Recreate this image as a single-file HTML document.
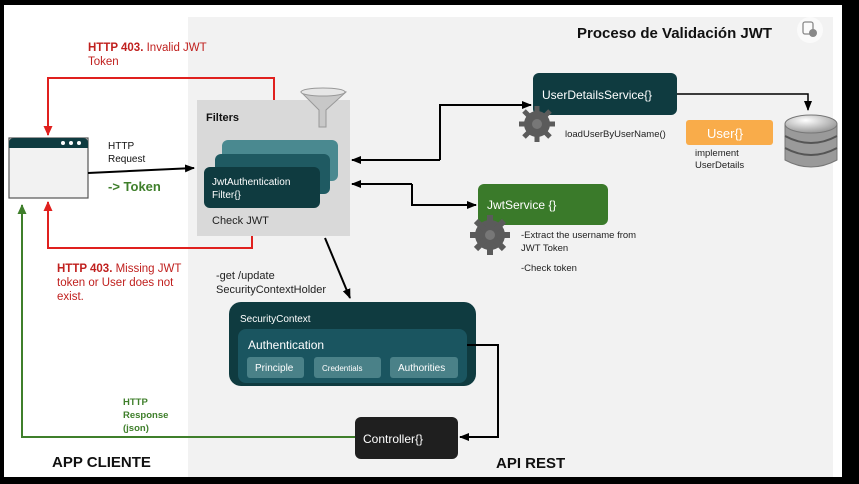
<!DOCTYPE html>
<html><head><meta charset="utf-8"><style>
html,body{margin:0;padding:0;background:#000;}
svg{display:block;font-family:"Liberation Sans",sans-serif;}
</style></head><body>
<svg width="859" height="484" viewBox="0 0 859 484" xmlns="http://www.w3.org/2000/svg">
<defs>
<marker id="ab" markerWidth="10" markerHeight="10" refX="9" refY="5" orient="auto" markerUnits="userSpaceOnUse"><path d="M0,1 L10,5 L0,9 Z" fill="#000"/></marker>
<marker id="ar" markerWidth="10" markerHeight="12" refX="9" refY="5" orient="auto" markerUnits="userSpaceOnUse"><path d="M0,0.5 L10,5 L0,9.5 Z" fill="#e0201e"/></marker>
<marker id="ag" markerWidth="10" markerHeight="12" refX="9" refY="5" orient="auto" markerUnits="userSpaceOnUse"><path d="M0,0.5 L10,5 L0,9.5 Z" fill="#3f7f2b"/></marker>
<radialGradient id="db" cx="0.4" cy="0.3" r="0.8"><stop offset="0" stop-color="#fff"/><stop offset="1" stop-color="#8a8a8a"/></radialGradient>
</defs>
<rect x="4" y="5" width="838" height="472" fill="#fff"/>
<rect x="188" y="17" width="645" height="460" fill="#f2f2f2"/>

<text x="577" y="38" font-size="15" font-weight="bold" fill="#111">Proceso de Validación JWT</text>
<circle cx="810" cy="30" r="13" fill="#fafafa"/>
<rect x="803" y="22" width="10" height="12" rx="2" fill="none" stroke="#888" stroke-width="1.3"/>
<circle cx="813" cy="33" r="4" fill="#888"/>

<path d="M274,100 V78 H48 V135" fill="none" stroke="#e0201e" stroke-width="2" marker-end="url(#ar)"/>
<path d="M252,236 V248 H48 V202" fill="none" stroke="#e0201e" stroke-width="2" marker-end="url(#ar)"/>
<text x="88" y="51" font-size="11.5" fill="#c0201e"><tspan font-weight="bold">HTTP 403.</tspan> Invalid JWT</text>
<text x="88" y="65" font-size="11.5" fill="#c0201e">Token</text>
<text x="57" y="272" font-size="11.5" fill="#c0201e"><tspan font-weight="bold">HTTP 403.</tspan> Missing JWT</text>
<text x="57" y="286" font-size="11.5" fill="#c0201e">token or User does not</text>
<text x="57" y="300" font-size="11.5" fill="#c0201e">exist.</text>

<path d="M355,437 H22 V205" fill="none" stroke="#3f7f2b" stroke-width="2" marker-end="url(#ag)"/>
<text x="123" y="405" font-size="9.5" font-weight="bold" fill="#3f7f2b">HTTP</text>
<text x="123" y="418" font-size="9.5" font-weight="bold" fill="#3f7f2b">Response</text>
<text x="123" y="431" font-size="9.5" font-weight="bold" fill="#3f7f2b">(json)</text>

<rect x="9" y="138" width="79" height="60" fill="#f2f2f2" stroke="#555" stroke-width="1.2"/>
<path d="M9,148 V143 Q9,138 14,138 H83 Q88,138 88,143 V148 Z" fill="#0f3b40"/>
<circle cx="63" cy="143" r="2" fill="#fff"/><circle cx="71" cy="143" r="2" fill="#fff"/><circle cx="79" cy="143" r="2" fill="#fff"/>

<path d="M88,173 L194,168" stroke="#000" stroke-width="2" marker-end="url(#ab)"/>
<text x="108" y="149" font-size="10" fill="#111">HTTP</text>
<text x="108" y="162" font-size="10" fill="#111">Request</text>
<text x="108" y="191" font-size="13" font-weight="bold" fill="#3f7f2b">-&gt; Token</text>

<rect x="197" y="100" width="153" height="136" fill="#d9d9d9"/>
<text x="206" y="121" font-size="11" font-weight="bold" fill="#111">Filters</text>
<rect x="222" y="140" width="116" height="41" rx="6" fill="#4a8990"/>
<rect x="215" y="154" width="115" height="40" rx="6" fill="#1f5a62"/>
<rect x="204" y="167" width="116" height="41" rx="6" fill="#0f3b40"/>
<text x="212" y="185" font-size="10" fill="#fff">JwtAuthentication</text>
<text x="212" y="198" font-size="10" fill="#fff">Filter{}</text>
<text x="212" y="224" font-size="11" fill="#222">Check JWT</text>
<path d="M301,92 Q322,85 346,92 L326,110 L326,127 L319,127 L319,110 Z" fill="#c8c8c8" stroke="#999"/>
<ellipse cx="323" cy="92" rx="22" ry="4" fill="#e6e6e6" stroke="#999"/>

<path d="M440,160 H352" stroke="#000" stroke-width="2" marker-end="url(#ab)"/>
<path d="M440,160 V105 H531" fill="none" stroke="#000" stroke-width="2" marker-end="url(#ab)"/>
<path d="M412,184 H352" stroke="#000" stroke-width="2" marker-end="url(#ab)"/>
<path d="M412,184 V205 H476" fill="none" stroke="#000" stroke-width="2" marker-end="url(#ab)"/>

<rect x="533" y="73" width="144" height="42" rx="6" fill="#0f3b40"/>
<text x="542" y="99" font-size="12" fill="#fff">UserDetailsService{}</text>
<g>
<circle cx="537" cy="124" r="13" fill="#5b5b5b"/>
<g stroke-width="5" stroke="#5b5b5b"><path d="M537,106V142M519,124H555M524,111L550,137M550,111L524,137"/></g>
<circle cx="537" cy="124" r="5" fill="#777"/>
</g>
<text x="565" y="137" font-size="9.5" fill="#222">loadUserByUserName()</text>

<path d="M677,94 H808 V110" fill="none" stroke="#000" stroke-width="1.5" marker-end="url(#ab)"/>
<rect x="686" y="120" width="87" height="25" rx="3" fill="#f9ac4a"/>
<text x="707" y="138" font-size="13" fill="#fff">User{}</text>
<text x="695" y="156" font-size="9.5" fill="#222">implement</text>
<text x="695" y="168" font-size="9.5" fill="#222">UserDetails</text>

<g stroke="#777" stroke-width="1">
<path d="M785,124 V160 Q811,174 837,160 V124 Z" fill="#9a9a9a"/>
<path d="M785,136 Q811,150 837,136 M785,148 Q811,162 837,148" fill="none" stroke="#555" stroke-width="2"/>
<ellipse cx="811" cy="124" rx="26" ry="9" fill="url(#db)"/>
</g>

<rect x="478" y="184" width="130" height="41" rx="6" fill="#3a7a2a"/>
<text x="487" y="209" font-size="12" fill="#fff">JwtService {}</text>
<g>
<circle cx="490" cy="235" r="15" fill="#5b5b5b"/>
<g stroke-width="6" stroke="#5b5b5b"><path d="M490,215V255M470,235H510M476,221L504,249M504,221L476,249"/></g>
<circle cx="490" cy="235" r="5" fill="#777"/>
</g>
<text x="521" y="238" font-size="9.5" fill="#222">-Extract the username from</text>
<text x="521" y="251" font-size="9.5" fill="#222">JWT Token</text>
<text x="521" y="271" font-size="9.5" fill="#222">-Check token</text>

<path d="M325,238 L350,298" stroke="#000" stroke-width="2" marker-end="url(#ab)"/>
<text x="216" y="279" font-size="11" fill="#222">-get   /update</text>
<text x="216" y="293" font-size="11" fill="#222">SecurityContextHolder</text>

<rect x="229" y="302" width="247" height="84" rx="12" fill="#0f3b40"/>
<text x="240" y="322" font-size="10" fill="#fff">SecurityContext</text>
<rect x="238" y="329" width="229" height="54" rx="8" fill="#1a5560"/>
<text x="248" y="349" font-size="12" fill="#fff">Authentication</text>
<rect x="247" y="357" width="57" height="21" rx="3" fill="#4a8188"/>
<text x="255" y="371" font-size="10" fill="#fff">Principle</text>
<rect x="314" y="357" width="67" height="21" rx="3" fill="#4a8188"/>
<text x="322" y="371" font-size="8" fill="#fff">Credentials</text>
<rect x="390" y="357" width="68" height="21" rx="3" fill="#4a8188"/>
<text x="398" y="371" font-size="10" fill="#fff">Authorities</text>

<path d="M467,345 H498 V437 H460" fill="none" stroke="#000" stroke-width="2" marker-end="url(#ab)"/>
<rect x="355" y="417" width="103" height="42" rx="6" fill="#1f1f1f"/>
<text x="363" y="443" font-size="12" fill="#fff">Controller{}</text>

<text x="52" y="467" font-size="15" font-weight="bold" fill="#111">APP CLIENTE</text>
<text x="496" y="468" font-size="15" font-weight="bold" fill="#111">API REST</text>
</svg>
</body></html>
